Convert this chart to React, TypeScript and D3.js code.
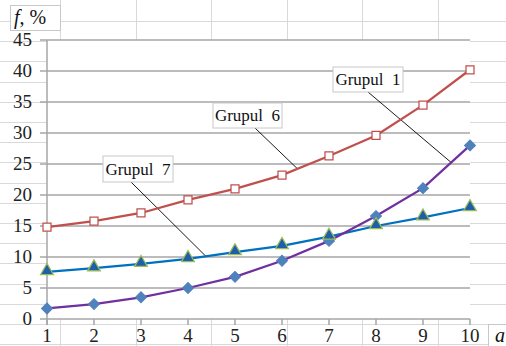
import React from "react";
import * as d3 from "d3";

const categories = [1, 2, 3, 4, 5, 6, 7, 8, 9, 10];
const grupul1 = [1.7, 2.4, 3.5, 5.0, 6.8, 9.4, 12.6, 16.6, 21.1, 28.0];
const grupul6 = [14.8, 15.8, 17.1, 19.2, 21.0, 23.2, 26.3, 29.6, 34.5, 40.2];
const grupul7 = [7.6, 8.2, 8.9, 9.7, 10.8, 11.8, 13.3, 15.0, 16.4, 17.9];
const yTicks = [0, 5, 10, 15, 20, 25, 30, 35, 40, 45];
const seriesNames = ["Grupul 1", "Grupul 6", "Grupul 7"];

const W = 506;
const H = 346;
const serif = '"Liberation Serif"';

export default function App() {
  const x = d3.scaleLinear().domain([1, 10]).range([47, 470]);
  const y = d3.scaleLinear().domain([0, 45]).range([319, 40]);
  const line = (vals: number[]) =>
    d3.line<number>().x((_, i) => x(categories[i])).y((v) => y(v))(vals) || "";

  const rowLines: number[] = d3.range(0, 17).map((k) => 21 + 20.2 * k);
  const colLines: number[] = d3.range(0, 6).map((k) => 60 + 75.6 * k);

  const sq = d3.symbol().type(d3.symbolSquare).size(64)() || "";
  const dia = d3.symbol().type(d3.symbolSquare).size(60)() || "";
  const tri = d3.symbol().type(d3.symbolTriangle).size(70)() || "";

  const callout = (
    name: string,
    bx: number,
    by: number,
    bw: number,
    bh: number,
    lx: number,
    vals: number[],
    catPos: number
  ) => {
    const i0 = Math.floor(catPos) - 1;
    const f = catPos - Math.floor(catPos);
    const v = vals[i0] + (vals[i0 + 1] - vals[i0]) * f;
    return (
      <g key={name}>
        <line x1={lx} y1={by + bh} x2={x(catPos)} y2={y(v)} stroke="#000" strokeWidth={0.9} />
        <rect x={bx} y={by} width={bw} height={bh} fill="#fff" stroke="#c8c8c8" strokeWidth={1} />
        <text x={bx + bw / 2} y={by + bh / 2 + 5.5} textAnchor="middle" style={{ fontFamily: serif }} fontSize={17} fill="#111">
          {name.replace(" ", "\u00a0\u00a0")}
        </text>
      </g>
    );
  };

  return (
    <svg width={W} height={H} style={{ position: "absolute", left: 0, top: 0, background: "#fff" }}>
      <g stroke="#d9d9d9" strokeWidth={1}>
        {rowLines.map((r, i) => (
          <line key={"r" + i} x1={0} x2={W} y1={Math.round(r) + 0.5} y2={Math.round(r) + 0.5} />
        ))}
        {colLines.map((c, i) => (
          <line key={"c" + i} x1={Math.round(c) + 0.5} x2={Math.round(c) + 0.5} y1={0} y2={H} />
        ))}
      </g>
      <rect x={x(1)} y={y(45)} width={x(10) - x(1)} height={y(0) - y(45)} fill="#fff" />
      <g stroke="#a6a6a6" strokeWidth={1.5}>
        {yTicks.map((t) => (
          <line key={"g" + t} x1={x(1) - 7} x2={x(10)} y1={y(t)} y2={y(t)} />
        ))}
        <line x1={x(1)} x2={x(1)} y1={y(45)} y2={y(0) + 6} />
        {categories.map((c) => (
          <line key={"xt" + c} x1={x(c)} x2={x(c)} y1={y(0)} y2={y(0) + 6} />
        ))}
      </g>
      {yTicks.map((t) => (
        <text key={"yl" + t} x={32} y={y(t) + 6} textAnchor="end" fontSize={19} fill="#222" style={{ fontFamily: serif }}>
          {t}
        </text>
      ))}
      {categories.map((c) => (
        <text key={"xl" + c} x={x(c)} y={342} textAnchor="middle" fontSize={19} fill="#222" style={{ fontFamily: serif }}>
          {c}
        </text>
      ))}
      <rect x={10.5} y={5.5} width={50} height={25} fill="#fff" stroke="#c8c8c8" />
      <text x={14} y={24} style={{ fontFamily: serif }} fontSize={20} fill="#111">
        <tspan fontStyle="italic">f</tspan>, %
      </text>
      <rect x={488.5} y={324.5} width={30} height={25} fill="#fff" stroke="#c8c8c8" />
      <text x={495} y={342} style={{ fontFamily: serif }} fontSize={20} fontStyle="italic" fill="#111">
        a
      </text>
      {callout(seriesNames[0], 333, 67, 70, 25, 368, grupul1, 9.6)}
      {callout(seriesNames[1], 213, 103, 69, 25, 255, grupul6, 6.33)}
      {callout(seriesNames[2], 103, 156, 70, 26, 131, grupul7, 4.38)}
      <path d={line(grupul7)} fill="none" stroke="#0070c0" strokeWidth={2.25} />
      <path d={line(grupul1)} fill="none" stroke="#7030a0" strokeWidth={2.25} />
      <path d={line(grupul6)} fill="none" stroke="#c0504d" strokeWidth={2.25} />
      {grupul1.map((v, i) => (
        <path
          key={"m1" + i}
          d={dia}
          transform={`translate(${x(categories[i])},${y(v)}) rotate(45)`}
          fill="#4f81bd"
          stroke="#4f81bd"
          strokeWidth={1}
        />
      ))}
      {grupul6.map((v, i) => (
        <path
          key={"m6" + i}
          d={sq}
          transform={`translate(${x(categories[i])},${y(v)})`}
          fill="#fff"
          stroke="#c0504d"
          strokeWidth={1.25}
        />
      ))}
      {grupul7.map((v, i) => (
        <path
          key={"m7" + i}
          d={tri}
          transform={`translate(${x(categories[i])},${y(v) - 1})`}
          fill="#1f5ea8"
          stroke="#9bbb59"
          strokeWidth={1.25}
        />
      ))}
    </svg>
  );
}
